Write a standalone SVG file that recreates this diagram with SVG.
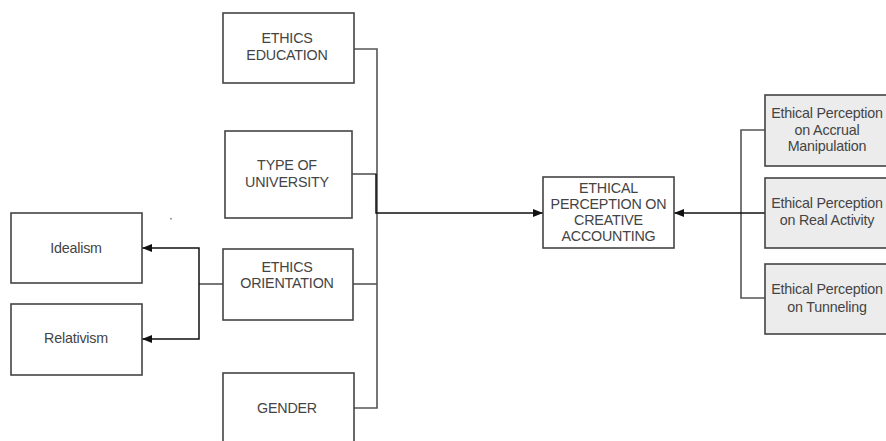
<svg xmlns="http://www.w3.org/2000/svg" width="886" height="441" viewBox="0 0 886 441">
<style>
.box{fill:#fff;stroke:#444;stroke-width:1.6}
.gbox{fill:#ececec;stroke:#444;stroke-width:1.6}
.t{font-family:"Liberation Sans",Arial,sans-serif;font-size:14.3px;fill:#444;text-anchor:middle;letter-spacing:-0.2px}
.c{fill:none;stroke:#555;stroke-width:1.6}
.ca{fill:none;stroke:#111;stroke-width:1.5}
</style>
<defs>
<marker id="ah" viewBox="0 0 10 10" refX="10" refY="5" markerWidth="10" markerHeight="10" markerUnits="userSpaceOnUse" orient="auto">
<path d="M0,1 L10,5 L0,9 Z" fill="#111"/>
</marker>
</defs>
<rect width="886" height="441" fill="#fff"/>
<g id="connectors">
<polyline class="c" points="354,49 377,49 377,408 354,408"/>
<line class="c" x1="352" y1="174" x2="377" y2="174"/>
<line class="c" x1="353" y1="284" x2="377" y2="284"/>
<polyline class="ca" points="376,174 376,213 543,213" marker-end="url(#ah)"/>
<line class="c" x1="223" y1="284" x2="199" y2="284"/>
<polyline class="ca" points="199,284 199,248 142,248" marker-end="url(#ah)"/>
<polyline class="ca" points="199,284 199,339 142,339" marker-end="url(#ah)"/>
<polyline class="c" points="765,130 741,130 741,298 765,298"/>
<line class="ca" x1="767" y1="213" x2="674" y2="213" marker-end="url(#ah)"/>
<rect x="170" y="218" width="2" height="1.5" fill="#999"/>
</g>
<g id="ethics-education">
<rect class="box" x="223" y="13" width="131" height="70"/>
<text class="t" x="287" y="43">ETHICS</text>
<text class="t" x="287" y="60">EDUCATION</text>
</g>
<g id="type-of-university">
<rect class="box" x="225" y="131" width="127" height="87"/>
<text class="t" x="287" y="170">TYPE OF</text>
<text class="t" x="287" y="187">UNIVERSITY</text>
</g>
<g id="ethics-orientation">
<rect class="box" x="223" y="249" width="130" height="71"/>
<text class="t" x="287" y="272">ETHICS</text>
<text class="t" x="287" y="288">ORIENTATION</text>
</g>
<g id="gender">
<rect class="box" x="223" y="373" width="131" height="80"/>
<text class="t" x="287" y="413">GENDER</text>
</g>
<g id="idealism">
<rect class="box" x="11" y="213" width="131" height="70"/>
<text class="t" x="76" y="253">Idealism</text>
</g>
<g id="relativism">
<rect class="box" x="11" y="304" width="131" height="71"/>
<text class="t" x="76" y="343">Relativism</text>
</g>
<g id="creative-accounting">
<rect class="box" x="543" y="177" width="131" height="71"/>
<text class="t" x="608.5" y="193">ETHICAL</text>
<text class="t" x="608.5" y="209">PERCEPTION ON</text>
<text class="t" x="608.5" y="225">CREATIVE</text>
<text class="t" x="608.5" y="241">ACCOUNTING</text>
</g>
<g id="accrual">
<rect class="gbox" x="765" y="95" width="130" height="71"/>
<text class="t" x="827" y="118">Ethical Perception</text>
<text class="t" x="827" y="135">on Accrual</text>
<text class="t" x="827" y="151">Manipulation</text>
</g>
<g id="real-activity">
<rect class="gbox" x="765" y="178" width="130" height="70"/>
<text class="t" x="827" y="208">Ethical Perception</text>
<text class="t" x="827" y="225">on Real Activity</text>
</g>
<g id="tunneling">
<rect class="gbox" x="765" y="264" width="130" height="70"/>
<text class="t" x="827" y="294">Ethical Perception</text>
<text class="t" x="827" y="312">on Tunneling</text>
</g>
</svg>
